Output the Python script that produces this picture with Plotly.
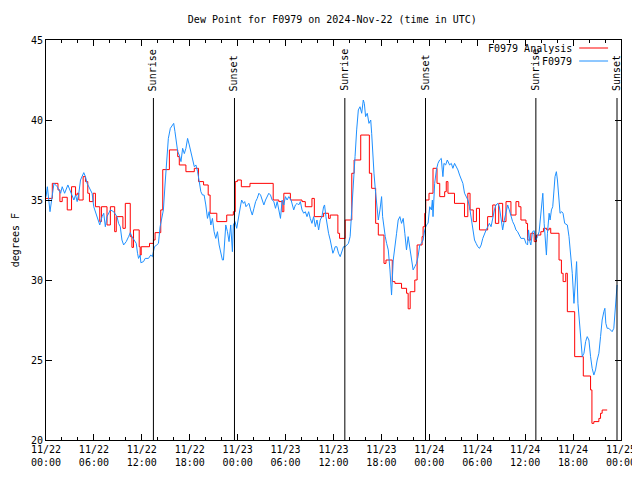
import pandas as pd
import plotly.graph_objects as go

start = pd.Timestamp("2024-11-22 00:00")

# F0979 observed dew point (hours since 11/22 00:00 UTC, deg F)
obs_hours = [0.0, 0.17, 0.5, 1.0, 1.41, 1.83, 2.03, 2.33, 2.74, 3.07, 3.49, 3.70, 3.90, 4.11, 4.32, 4.73, 4.94, 5.15,
             5.56, 5.77, 5.98, 6.40, 6.60, 6.73, 7.02, 7.23, 7.43, 7.64, 8.06, 8.47, 8.89, 9.09, 9.30, 9.51, 9.72,
             10.05, 10.34, 10.55, 10.76, 11.05, 11.30, 11.46, 11.59, 11.79, 11.88, 12.21, 12.42, 12.83, 13.12, 13.33,
             13.58, 13.87, 14.08, 14.29, 14.49, 14.70, 14.91, 15.16, 15.32, 15.57, 15.86, 15.99, 16.15, 16.32, 16.49,
             16.69, 16.90, 17.11, 17.32, 17.52, 17.73, 17.94, 18.14, 18.35, 18.57, 18.77, 18.98, 19.19, 19.39, 19.60,
             19.80, 20.01, 20.22, 20.43, 20.64, 20.84, 21.05, 21.26, 21.47, 21.68, 21.89, 22.09, 22.22, 22.38, 22.51,
             22.72, 22.92, 23.13, 23.34, 23.46, 23.67, 23.88, 24.05, 24.21, 24.38, 24.50, 24.71, 24.88, 25.04, 25.21,
             25.42, 25.62, 25.83, 26.04, 26.25, 26.45, 26.66, 26.87, 27.08, 27.28, 27.49, 27.70, 27.90, 28.11, 28.32,
             28.53, 28.74, 28.95, 29.15, 29.36, 29.57, 29.78, 29.98, 30.19, 30.40, 30.69, 31.02, 31.23, 31.44, 31.64,
             31.85, 32.06, 32.27, 32.47, 32.68, 32.89, 33.09, 33.30, 33.51, 33.72, 33.93, 34.14, 34.34, 34.55, 34.76,
             34.88, 35.05, 35.17, 35.38, 35.59, 35.71, 35.92, 36.09, 36.21, 36.42, 36.63, 36.84, 37.04, 37.25, 37.46,
             37.67, 37.87, 38.08, 38.28, 38.49, 38.70, 38.90, 39.11, 39.32, 39.53, 39.73, 39.86, 40.02, 40.23, 40.44,
             40.66, 40.78, 40.90, 41.07, 41.24, 41.40, 41.61, 41.82, 42.02, 42.15, 42.32, 42.48, 42.65, 42.86, 43.07,
             43.27, 43.48, 43.69, 43.90, 44.10, 44.31, 44.52, 44.73, 44.93, 45.14, 45.35, 45.56, 45.76, 45.97, 46.18,
             46.39, 46.59, 46.80, 47.01, 47.22, 47.43, 47.63, 47.84, 48.05, 48.26, 48.38, 48.46, 48.67, 48.88, 49.08,
             49.29, 49.50, 49.62, 49.70, 49.83, 50.04, 50.25, 50.54, 50.75, 50.95, 51.16, 51.37, 51.58, 51.79, 52.00,
             52.20, 52.41, 52.62, 52.83, 53.03, 53.24, 53.45, 53.66, 53.86, 54.07, 54.28, 54.49, 54.69, 54.90, 55.11,
             55.32, 55.52, 55.73, 55.94, 56.15, 56.35, 56.56, 56.77, 56.98, 57.18, 57.39, 57.60, 57.81, 58.01, 58.22,
             58.43, 58.64, 58.85, 59.05, 59.26, 59.47, 59.89, 60.10, 60.30, 60.42, 60.58, 60.71, 60.92, 61.13, 61.34,
             61.55, 61.75, 61.96, 62.08, 62.21, 62.38, 62.50, 62.66, 62.79, 63.00, 63.12, 63.29, 63.45, 63.62, 63.74,
             63.91, 64.04, 64.24, 64.37, 64.58, 64.74, 64.95, 65.28, 65.49, 65.70, 65.90, 66.11, 66.32, 66.44, 66.61,
             66.74, 66.94, 67.15, 67.36, 67.57, 67.77, 67.98, 68.19, 68.39, 68.60, 68.81, 69.02, 69.23, 69.44, 69.64,
             69.85, 69.98, 70.10, 70.27, 70.48, 70.68, 70.89, 71.10, 71.22, 71.35, 71.51]
obs_values = [35.2, 35.83, 34.27, 36.04, 35.83, 35.42, 35.83, 35.42, 35.94, 35.52, 35.0, 35.31, 34.9, 35.42, 36.25, 36.71, 36.46, 36.04,
              35.63, 35.42, 34.58, 33.96, 33.65, 33.44, 33.96, 34.17, 33.33, 33.96, 34.38, 34.27, 33.96, 33.54, 33.33, 32.5, 32.19,
              32.4, 32.71, 32.96, 32.71, 32.5, 32.29, 31.67, 31.35, 31.56, 31.08, 31.15, 31.35, 31.35, 31.56, 31.46,
              32.08, 32.19, 32.29, 33.33, 33.96, 34.38, 36.0, 38.23, 38.85, 39.48, 39.69, 39.79, 39.27, 38.65, 38.02,
              37.81, 37.4, 38.23, 37.9, 38.23, 38.85, 38.44, 38.02, 37.6, 37.08, 37.19, 36.77, 36.15, 35.52, 35.31,
              35.31, 34.69, 33.85, 34.27, 33.44, 33.85, 33.02, 32.6, 33.02, 32.19, 31.77, 31.25, 31.25, 33.02, 33.44,
              33.02, 32.4, 33.44, 31.77, 33.44, 33.65, 33.23, 33.65, 34.27, 34.69, 35.0, 34.79, 34.9, 34.58, 34.69,
              34.79, 34.38, 34.06, 34.48, 34.9, 35.1, 35.42, 35.31, 35.0, 34.69, 35.0, 35.21, 35.42, 35.31, 35.0,
              34.9, 34.48, 34.9, 34.27, 33.85, 35.0, 34.69, 35.21, 35.0, 35.21, 35.0, 34.38, 34.69, 34.79, 34.69,
              34.9, 34.38, 34.17, 34.27, 33.96, 34.27, 33.85, 33.54, 33.96, 33.33, 33.75, 33.13, 33.75, 33.96, 34.58,
              34.69, 33.96, 33.54, 32.92, 32.5, 32.08, 31.67, 31.88, 32.08, 32.08, 31.67, 31.46, 31.77, 32.08, 32.08,
              32.19, 32.29, 32.71, 34.58, 36.46, 37.71, 39.38, 40.63, 40.83, 40.42, 41.25, 41.04, 40.21, 40.42, 39.79,
              40.0, 39.17, 37.92, 36.67, 35.63, 34.58, 33.75, 34.38, 35.21, 33.96, 33.13, 32.71, 32.29, 31.88, 30.63,
              29.06, 31.25, 32.3, 32.92, 33.75, 33.96, 33.54, 33.85, 32.92, 31.88, 32.71, 31.88, 31.25, 30.63, 30.83,
              31.04, 31.46, 32.19, 32.29, 32.5, 33.13, 33.44, 33.54, 34.58, 34.38, 35.0, 33.96, 36.04, 36.88, 37.29,
              37.5, 37.6, 36.88, 36.46, 37.29, 37.19, 37.5, 37.19, 37.29, 36.98, 37.29, 37.08, 36.88, 36.56, 36.25,
              36.04, 35.42, 35.21, 35.0, 34.58, 33.96, 33.33, 32.5, 32.29, 32.08, 31.98, 32.19, 32.6, 32.92, 33.13,
              33.33, 33.54, 33.33, 33.96, 34.38, 34.69, 34.79, 34.58, 33.96, 33.13, 33.75, 34.27, 34.69, 34.38, 33.96,
              33.65, 33.44, 33.13, 33.02, 32.8, 32.6, 32.6, 32.29, 32.19, 33.13, 32.4, 32.19, 33.02, 33.08, 32.5,
              32.71, 33.02, 34.38, 34.79, 35.42, 33.54, 32.29, 31.56, 32.92, 34.17, 33.75, 34.38, 34.58, 35.83, 36.46,
              36.77, 36.25, 35.0, 34.17, 34.27, 34.17, 33.54, 33.44, 32.71, 31.46, 30.42, 28.54, 30.63, 31.15, 28.54,
              27.71, 26.67, 25.21, 25.42, 26.15, 26.46, 26.25, 25.21, 24.48, 24.06, 24.38, 25.0, 25.42, 26.46, 27.5,
              28.02, 28.23, 27.29, 26.98, 26.98, 26.88, 26.77, 26.98, 27.71, 28.96, 29.69]

# F0979 Analysis dew point (step start hours, deg F)
ana_hours = [0.0, 0.79, 1.5, 1.74, 2.03, 2.66, 3.2, 3.7, 3.9, 4.11, 4.65, 4.94, 5.23, 5.44, 5.9, 6.19, 6.73, 6.94,
             7.64, 8.06, 8.6, 8.8, 9.63, 9.93, 10.55, 10.76, 10.96, 11.67, 11.79, 11.92, 12.96, 13.46, 13.66, 14.37,
             14.62, 15.45, 16.49, 16.69, 17.52, 18.57, 19.1, 19.73, 20.31, 20.55, 21.39, 22.63, 23.46, 23.7, 23.96,
             24.46, 25.54, 28.45, 29.15, 29.57, 29.78, 30.6, 32.06, 32.47, 33.3, 33.6, 34.76, 35.38, 35.59, 36.55,
             36.76, 37.46, 38.29, 38.58, 39.41, 40.49, 40.78, 41.28, 41.61, 42.32, 42.57, 43.36, 43.69, 44.52, 45.15,
             45.35, 45.6, 46.18, 46.47, 47.09, 47.22, 47.43, 47.55, 47.96, 48.46, 48.96, 49.3, 49.92, 50.12, 50.33,
             51.15, 52.4, 52.82, 53.1, 53.5, 53.9, 54.28, 55.3, 55.94, 56.27, 56.69, 57.18, 57.6, 58.22, 58.85, 59.2,
             59.47, 60.1, 60.3, 60.71, 61.13, 61.42, 61.96, 62.29, 62.7, 63.0, 63.2, 64.24, 64.54, 64.75, 65.08,
             65.28, 66.2, 67.28, 68.19, 68.36, 68.6, 69.23, 69.44, 69.64, 70.27]
ana_values = [35.1, 36.04, 35.63, 34.9, 35.17, 34.38, 35.83, 35.31, 35.42, 35.0, 36.46, 36.15, 35.42, 34.9, 35.42, 34.58, 33.65, 34.58,
              33.44, 34.58, 33.02, 33.96, 33.23, 34.79, 32.71, 32.04, 33.13, 32.08, 31.56, 32.08, 32.29, 32.5, 32.96, 34.38,
              36.9, 38.13, 37.71, 37.19, 36.77, 36.98, 36.15, 35.94, 35.31, 34.17, 33.65, 34.06, 34.27, 36.15, 36.25,
              35.83, 36.04, 35.0, 34.9, 34.27, 35.42, 35.0, 34.9, 34.58, 35.1, 33.96, 34.17, 33.85, 34.06, 32.92,
              32.6, 33.75, 36.67, 37.5, 39.06, 36.67, 35.73, 33.54, 32.81, 31.04, 31.25, 29.9, 29.79, 29.48, 29.17,
              28.2, 29.27, 30.0, 32.19, 32.71, 33.33, 34.17, 35.0, 35.42, 36.98, 36.04, 35.21, 35.52, 36.15, 35.42,
              34.79, 33.96, 35.42, 34.38, 33.65, 34.48, 33.13, 33.96, 34.69, 33.54, 34.79, 33.65, 34.9, 34.06, 34.9, 34.58,
              33.75, 33.54, 32.5, 32.92, 32.4, 32.81, 33.02, 33.23, 33.13, 33.23, 32.92, 31.25, 30.42, 29.9, 30.42,
              28.02, 25.21, 24.0, 23.13, 21.04, 21.15, 21.35, 21.67, 21.875, 21.875]

# Sun events (hours since 11/22 00:00 UTC)
sun_hours = [13.45, 23.6, 37.42, 47.52, 61.34, 71.5]
sun_labels = ["Sunrise", "Sunset", "Sunrise", "Sunset", "Sunrise", "Sunset"]

y_ticks = [20, 25, 30, 35, 40, 45]

obs_t = [start + pd.Timedelta(hours=h) for h in obs_hours]
ana_t = [start + pd.Timedelta(hours=h) for h in ana_hours]
sun_t = [start + pd.Timedelta(hours=h) for h in sun_hours]

FONT = "DejaVu Sans Mono"
RED = "#ff0000"
BLUE = "#1e90ff"

fig = go.Figure()
fig.add_trace(go.Scatter(x=ana_t, y=ana_values, mode="lines", name="F0979 Analysis",
                         line=dict(color=RED, width=1, shape="hv")))
fig.add_trace(go.Scatter(x=obs_t, y=obs_values, mode="lines", name="F0979",
                         line=dict(color=BLUE, width=1)))

shapes = []
annotations = []
for t, lab in zip(sun_t, sun_labels):
    shapes.append(dict(type="line", xref="x", yref="paper", x0=t, x1=t, y0=0, y1=0.855,
                       line=dict(color="black", width=1)))
    annotations.append(dict(x=t, y=0.8675, xref="x", yref="paper", text=lab, textangle=-90,
                            showarrow=False, xanchor="center", yanchor="bottom",
                            font=dict(family=FONT, size=10, color="black")))

# manual gnuplot-style key (text right, sample line on the right)
key = [("F0979 Analysis", RED, 0.98), ("F0979", BLUE, 0.9475)]
for name, col, yk in key:
    annotations.append(dict(x=0.9187, y=yk, xref="paper", yref="paper", text=name, showarrow=False,
                            xanchor="right", yanchor="middle",
                            font=dict(family=FONT, size=10, color="black")))
    shapes.append(dict(type="line", xref="paper", yref="paper", x0=0.9273, x1=0.9775, y0=yk, y1=yk,
                       line=dict(color=col, width=1)))

annotations.append(dict(x=-0.0536, y=0.5, xref="paper", yref="paper", text="degrees F", textangle=-90,
                        showarrow=False, xanchor="center", yanchor="middle",
                        font=dict(family=FONT, size=10, color="black")))

fig.update_layout(
    width=640, height=480,
    margin=dict(l=38, r=24, t=32, b=48),
    paper_bgcolor="white", plot_bgcolor="white",
    showlegend=False,
    font=dict(family=FONT, size=10, color="black"),
    title=dict(text="Dew Point for F0979 on 2024-Nov-22 (time in UTC)", x=0.498, xref="paper",
               xanchor="center", y=1 - 11 / 480, yanchor="middle",
               font=dict(family=FONT, size=10, color="black")),
    shapes=shapes, annotations=annotations,
)
fig.update_xaxes(
    range=[start, start + pd.Timedelta(hours=72)],
    type="date", dtick=6 * 3600 * 1000, tick0=start, tickformat="%m/%d<br>%H:%M",
    ticks="inside", ticklen=6, tickcolor="black", showline=True, linecolor="black", linewidth=1,
    mirror="ticks", showgrid=False, zeroline=False,
    minor=dict(dtick=2 * 3600 * 1000, ticks="inside", ticklen=3, tickcolor="black", showgrid=False),
    tickfont=dict(family=FONT, size=10),
)
fig.update_yaxes(
    range=[20, 45], tickvals=y_ticks, ticks="inside", ticklen=6, tickcolor="black",
    showline=True, linecolor="black", linewidth=1, mirror="ticks", showgrid=False, zeroline=False,
    tickfont=dict(family=FONT, size=10),
)

fig.write_html("out.html")
